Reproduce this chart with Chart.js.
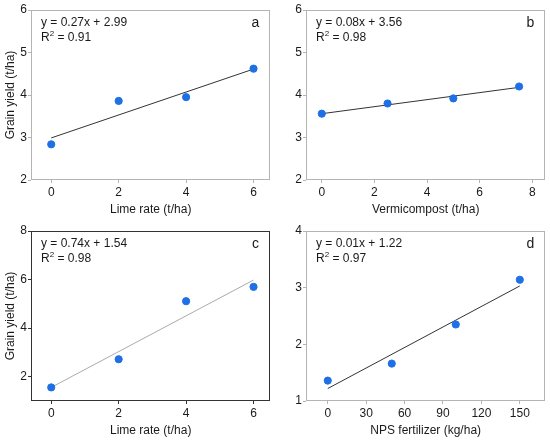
<!DOCTYPE html>
<html>
<head>
<meta charset="utf-8">
<script src="https://cdn.jsdelivr.net/npm/chart.js@4/dist/chart.umd.min.js"></script>
<style>
  html, body { margin: 0; padding: 0; background: #fff; }
  #wrap { position: relative; width: 550px; height: 442px; }
  #wrap canvas { position: absolute; }
</style>
</head>
<body>
<div id="wrap">
  <canvas id="chartA" width="275" height="221" style="left:0;top:0"></canvas>
  <canvas id="chartB" width="275" height="221" style="left:275px;top:0"></canvas>
  <canvas id="chartC" width="275" height="221" style="left:0;top:221px"></canvas>
  <canvas id="chartD" width="275" height="221" style="left:275px;top:221px"></canvas>
</div>
<script>
// panel a - lime rate
const limeRate = [0, 2, 4, 6];
const yieldA = [2.84, 3.86, 3.95, 4.62];
const trendXA = [0, 6];
const trendA = [2.99, 4.61];

// panel b - vermicompost
const vermicompost = [0, 2.5, 5, 7.5];
const yieldB = [3.56, 3.80, 3.92, 4.20];
const trendXB = [0, 7.5];
const trendB = [3.56, 4.18];

// panel c - lime rate
const yieldC = [1.56, 2.72, 5.11, 5.70];
const trendXC = [0, 6];
const trendC = [1.56, 5.98];

// panel d - NPS fertilizer
const npsRate = [0, 50, 100, 150];
const yieldD = [1.36, 1.66, 2.35, 3.14];
const trendXD = [0, 150];
const trendD = [1.22, 3.03];

// tick labels
const limeTicks = [0, 2, 4, 6];
const vermiTicks = [0, 2, 4, 6, 8];
const npsTicks = [0, 30, 60, 90, 120, 150];
const yTicksAB = [2, 3, 4, 5, 6];
const yTicksC = [2, 4, 6, 8];
const yTicksD = [1, 2, 3, 4];

const FONT = '"Liberation Sans", Arial, sans-serif';
const TEXT = '#1a1a1a';
const DOT = '#1f6fe5';

// box round the plot area + equation text
const panelText = {
  id: 'panelText',
  beforeDatasetsDraw(chart, args, opts) {
    const { ctx, chartArea: a } = chart;
    ctx.save();
    ctx.strokeStyle = opts.box;
    ctx.lineWidth = 1;
    ctx.strokeRect(Math.round(a.left) + 0.5, Math.round(a.top) + 0.5,
      Math.round(a.right - a.left) - 1, Math.round(a.bottom - a.top) - 1);
    ctx.restore();
  },
  afterDraw(chart, args, opts) {
    const { ctx, chartArea: a } = chart;
    ctx.save();
    ctx.fillStyle = TEXT;
    ctx.textBaseline = 'middle';
    ctx.textAlign = 'left';
    const x0 = a.left + 10;
    ctx.font = '12px ' + FONT;
    ctx.fillText(opts.equation, x0, a.top + 13);
    ctx.fillText('R', x0, a.top + 28);
    const wR = ctx.measureText('R').width;
    ctx.font = '8px ' + FONT;
    ctx.fillText('2', x0 + wR, a.top + 24);
    const w2 = ctx.measureText('2').width;
    ctx.font = '12px ' + FONT;
    ctx.fillText(' = ' + opts.r2, x0 + wR + w2, a.top + 28);
    ctx.font = '14px ' + FONT;
    ctx.textAlign = 'center';
    ctx.fillText(opts.letter, a.right - 15, a.top + 13);
    ctx.restore();
  }
};

function makeChart(id, xs, ys, tx, ty, xr, xTicks, yr, yTicks, xTitle, yTitle, eq, r2, letter, box, lineColor) {
  const pts = xs.map((x, i) => ({ x: x, y: ys[i] }));
  const trend = tx.map((x, i) => ({ x: x, y: ty[i] }));
  return new Chart(document.getElementById(id), {
    type: 'scatter',
    data: {
      datasets: [
        { data: pts, backgroundColor: DOT, borderColor: DOT, pointRadius: 3.6, pointHoverRadius: 3.6, order: 0 },
        { data: trend, showLine: true, pointRadius: 0, borderColor: lineColor, borderWidth: 1, order: 1 }
      ]
    },
    options: {
      responsive: false,
      animation: false,
      devicePixelRatio: 1,
      layout: { padding: { left: 0, top: 10, right: 4, bottom: 0 } },
      plugins: {
        legend: { display: false },
        tooltip: { enabled: false },
        panelText: { equation: eq, r2: r2, letter: letter, box: box }
      },
      scales: {
        x: {
          type: 'linear',
          min: xr[0], max: xr[1],
          afterBuildTicks: s => { s.ticks = xTicks.map(v => ({ value: v })); },
          afterFit: s => { s.height = 41; },
          border: { display: false },
          grid: { drawOnChartArea: false, drawTicks: true, tickLength: 3, color: box },
          ticks: { color: TEXT, font: { family: FONT, size: 12 }, padding: 2, maxRotation: 0 },
          title: { display: true, text: xTitle, color: TEXT, font: { family: FONT, size: 12 } }
        },
        y: {
          type: 'linear',
          min: yr[0], max: yr[1],
          afterBuildTicks: s => { s.ticks = yTicks.map(v => ({ value: v })); },
          afterFit: s => { s.width = 31; },
          border: { display: false },
          grid: { drawOnChartArea: false, drawTicks: true, tickLength: 3, color: box },
          ticks: { color: TEXT, font: { family: FONT, size: 12 }, padding: 1 },
          title: { display: !!yTitle, text: yTitle, color: TEXT, font: { family: FONT, size: 12 }, padding: { top: 3, bottom: 3 } }
        }
      }
    },
    plugins: [panelText]
  });
}

makeChart('chartA', limeRate, yieldA, trendXA, trendA, [-0.6, 6.5], limeTicks, [2, 6], yTicksAB,
  'Lime rate (t/ha)', 'Grain yield (t/ha)', 'y = 0.27x + 2.99', '0.91', 'a', '#b4b4b4', '#333');
makeChart('chartB', vermicompost, yieldB, trendXB, trendB, [-0.6, 8.5], vermiTicks, [2, 6], yTicksAB,
  'Vermicompost (t/ha)', '', 'y = 0.08x + 3.56', '0.98', 'b', '#b4b4b4', '#333');
makeChart('chartC', limeRate, yieldC, trendXC, trendC, [-0.6, 6.5], limeTicks, [1, 8], yTicksC,
  'Lime rate (t/ha)', 'Grain yield (t/ha)', 'y = 0.74x + 1.54', '0.98', 'c', '#333', '#aaa');
makeChart('chartD', npsRate, yieldD, trendXD, trendD, [-17, 170], npsTicks, [1, 4], yTicksD,
  'NPS fertilizer (kg/ha)', '', 'y = 0.01x + 1.22', '0.97', 'd', '#b4b4b4', '#333');
</script>
</body>
</html>
